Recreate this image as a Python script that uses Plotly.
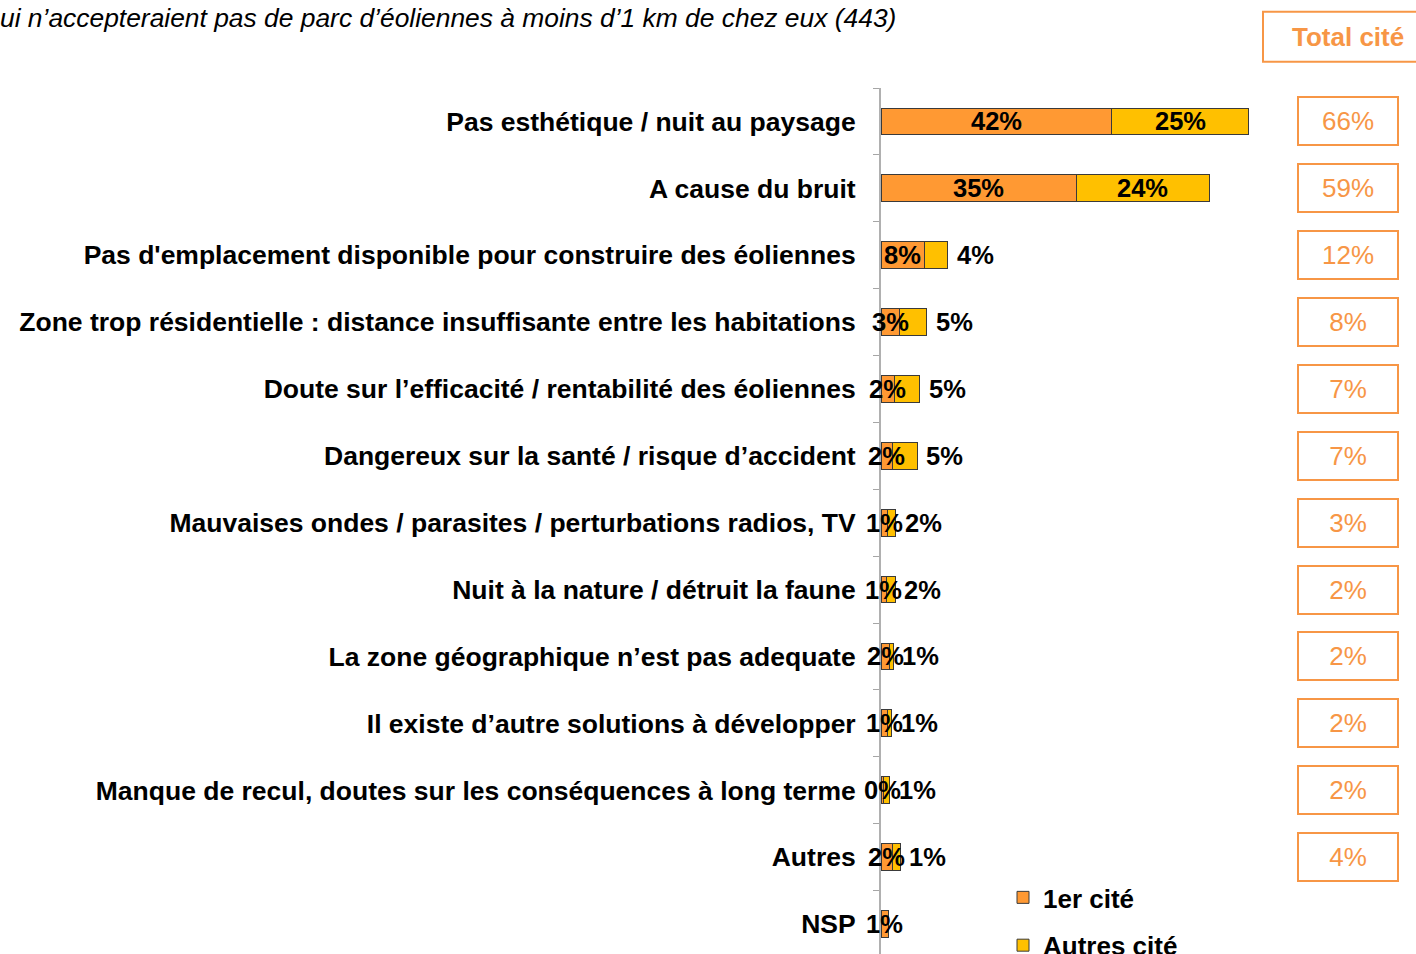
import plotly.graph_objects as go

categories = [
    "Pas esthétique / nuit au paysage",
    "A cause du bruit",
    "Pas d'emplacement disponible pour construire des éoliennes",
    "Zone trop résidentielle : distance insuffisante entre les habitations",
    "Doute sur l’efficacité / rentabilité des éoliennes",
    "Dangereux sur la santé / risque d’accident",
    "Mauvaises ondes / parasites / perturbations radios, TV",
    "Nuit à la nature / détruit la faune",
    "La zone géographique n’est pas adequate",
    "Il existe d’autre solutions à développer",
    "Manque de recul, doutes sur les conséquences à long terme",
    "Autres",
    "NSP",
]
premier = [41.6, 35.3, 7.8, 3.4, 2.4, 2.0, 1.2, 0.9, 1.6, 1.2, 0.4, 2.1, 1.4]
autres = [24.6, 23.8, 4.2, 4.8, 4.6, 4.5, 1.5, 1.7, 0.6, 0.7, 1.2, 1.4, 0.0]
premier_labels = ["42%", "35%", "8%", "3%", "2%", "2%", "1%", "1%", "2%", "1%", "0%", "2%", "1%"]
autres_labels = ["25%", "24%", "4%", "5%", "5%", "5%", "2%", "2%", "1%", "1%", "1%", "1%", ""]
total_labels = ["66%", "59%", "12%", "8%", "7%", "7%", "3%", "2%", "2%", "2%", "2%", "4%"]
series_names = ["1er cité", "Autres cité"]
title_text = "ui n’accepteraient pas de parc d’éoliennes à moins d’1 km de chez eux (443)"
total_header = "Total cité"

C_ORANGE = "#FF9933"
C_GOLD = "#FFC000"
C_TOTAL = "#F79646"
FONT = "Liberation Sans, Arial, sans-serif"

W, H = 1416, 954
ML, MT = 881, 88.3
PX_PER_PCT = 5.55
plot_w = W - ML
plot_h = H - MT


def px_x(px):
    return (px - ML) / plot_w


def px_y(py):
    return (H - py) / plot_h


fig = go.Figure()
fig.add_trace(go.Bar(
    y=categories, x=premier, orientation="h", name=series_names[0],
    marker=dict(color=C_ORANGE, line=dict(color="#3a3a3a", width=1)),
    width=0.4, legendgroup="a", hoverinfo="skip",
))
fig.add_trace(go.Bar(
    y=categories, x=autres, orientation="h", name=series_names[1],
    marker=dict(color=C_GOLD, line=dict(color="#3a3a3a", width=1)),
    width=0.4, legendgroup="b", hoverinfo="skip",
))

annotations = []
lab_font = dict(family=FONT, size=25.5, color="black", weight="bold")
for cat, p, a, pl, al in zip(categories, premier, autres, premier_labels, autres_labels):
    annotations.append(dict(x=p / 2, y=cat, xref="x", yref="y", text=pl,
                            showarrow=False, font=lab_font, xanchor="center", yanchor="middle"))
    if al:
        if a >= 10:
            annotations.append(dict(x=p + a / 2, y=cat, xref="x", yref="y", text=al,
                                    showarrow=False, font=lab_font, xanchor="center", yanchor="middle"))
        else:
            annotations.append(dict(x=p + a, y=cat, xref="x", yref="y", text=al,
                                    showarrow=False, font=lab_font, xanchor="left", yanchor="middle",
                                    xshift=7))

for cat, t in zip(categories, total_labels):
    annotations.append(dict(x=px_x(1348), y=cat, xref="paper", yref="y", text=t,
                            showarrow=False, font=dict(family=FONT, size=26, color=C_TOTAL),
                            width=96, height=44, borderpad=1, borderwidth=2,
                            bordercolor=C_TOTAL, bgcolor="white",
                            xanchor="center", yanchor="middle"))

annotations.append(dict(x=px_x(1348), y=px_y(37), xref="paper", yref="paper", text=total_header,
                        showarrow=False, font=dict(family=FONT, size=26, color=C_TOTAL, weight="bold"),
                        xanchor="center", yanchor="middle"))
annotations.append(dict(x=px_x(-2), y=px_y(18), xref="paper", yref="paper", text=title_text,
                        showarrow=False, font=dict(family=FONT, size=26.4, color="black", style="italic"),
                        xanchor="left", yanchor="middle"))

shapes = [dict(type="rect", xref="paper", yref="paper",
               x0=px_x(1263), x1=px_x(1440), y0=px_y(12), y1=px_y(62),
               line=dict(color=C_TOTAL, width=2), fillcolor="rgba(0,0,0,0)")]

fig.update_layout(
    width=W, height=H,
    margin=dict(l=ML, r=0, t=MT, b=0, autoexpand=False),
    barmode="stack",
    plot_bgcolor="white", paper_bgcolor="white",
    font=dict(family=FONT, color="black"),
    xaxis=dict(range=[0, plot_w / PX_PER_PCT], visible=False, showgrid=False, zeroline=False,
               fixedrange=True),
    yaxis=dict(
        type="category", categoryorder="array", categoryarray=categories,
        range=[12 + (H - 924) / ((H - MT) / 12.949), -0.5],
        showline=True, linecolor="#B0B0B0", linewidth=2,
        ticks="outside", ticklen=6, tickcolor="#A6A6A6", tickwidth=1,
        tickson="boundaries", showgrid=False, zeroline=False,
        tickfont=dict(family=FONT, size=26.5, color="black", weight="bold"),
        ticklabelstandoff=18, automargin=False,
    ),
    legend=dict(x=px_x(1003), y=px_y(874), xanchor="left", yanchor="top",
                font=dict(family=FONT, size=26, color="black", weight="bold"),
                traceorder="grouped", tracegroupgap=11, bgcolor="rgba(0,0,0,0)",
                itemwidth=30),
    annotations=annotations,
    shapes=shapes,
    showlegend=True,
)

fig.write_html("out.html", config={"displayModeBar": False},
               post_script="document.body.style.margin='0';document.body.style.overflow='hidden';")
